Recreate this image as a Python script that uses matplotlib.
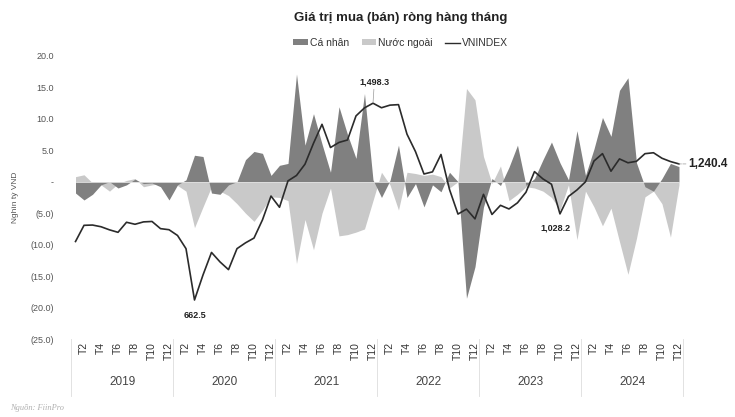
import matplotlib
matplotlib.use("Agg")
import matplotlib.pyplot as plt
from matplotlib.patches import Patch
from matplotlib.lines import Line2D
from matplotlib.ticker import FuncFormatter
import numpy as np

plt.rcParams['font.family'] = ['Liberation Sans', 'DejaVu Sans']

# du lieu doc tu bieu do (nghin ty VND), thang 1/2019 -> 12/2024
nam = ['2019', '2020', '2021', '2022', '2023', '2024']
thang = ['T' + str(i) for i in range(1, 13)]

ca_nhan = [
    -1.8, -2.9, -2.0, -0.5, 0.0, -1.0, -0.5, 0.4, -0.3, -0.2, -0.8, -2.9,
    -0.5, 0.3, 4.2, 4.0, -1.8, -2.0, -0.5, 0.0, 3.5, 4.8, 4.5, 1.0,
    2.6, 2.9, 17.1, 5.8, 10.8, 6.0, 1.5, 11.9, 7.5, 3.7, 14.0, 0.3,
    -2.5, 0.2, 5.8, -2.5, -0.3, -4.0, -0.5, -1.6, 1.5, 0.0, -18.5, -13.5,
    -4.0, 0.5, -0.6, 2.3, 5.8, -0.6, 0.5, 3.5, 6.3, 3.0, 0.3, 8.1,
    1.0, 5.2, 10.2, 7.2, 14.5, 16.5, 3.0, -0.8, -1.5, 0.5, 2.9, 2.4,
]
nuoc_ngoai = [
    0.8, 1.1, -0.2, -0.5, -1.5, -0.3, 0.2, 0.5, -0.8, -0.5, -0.3, -0.5,
    -0.6, -1.5, -7.3, -4.0, -0.8, -1.5, -2.2, -3.5, -5.0, -6.3, -4.5, -2.4,
    -2.5, -3.0, -13.0, -6.0, -10.8, -5.0, -1.0, -8.6, -8.4, -8.0, -7.5, -3.0,
    1.5, -0.5, -4.5, 1.5, 1.3, 1.0, 1.2, 0.8, -1.0, 0.0, 14.8, 13.0,
    4.0, -0.3, 2.5, -3.0, -2.0, -0.8, -1.0, -1.5, -2.5, -4.5, -0.5, -9.2,
    -1.5, -4.0, -7.0, -4.2, -9.5, -14.7, -9.0, -2.4, -1.5, -3.5, -8.8, -0.5,
]
vnindex = [
    910.9, 979.6, 980.8, 973.6, 960.4, 949.9, 992.6, 984.1, 994.2, 996.0, 965.5, 961.0,
    936.6, 880.5, 662.5, 768.8, 864.5, 824.3, 791.4, 880.6, 905.2, 925.5, 1003.1, 1103.9,
    1056.3, 1168.5, 1191.4, 1239.4, 1328.1, 1408.6, 1310.1, 1331.7, 1342.1, 1444.3, 1478.4, 1498.3,
    1479.0, 1490.1, 1492.2, 1366.8, 1292.7, 1197.6, 1206.7, 1280.5, 1132.1, 1027.4, 1048.4, 1007.1,
    1111.2, 1025.7, 1064.6, 1049.1, 1075.2, 1120.2, 1207.7, 1176.6, 1154.2, 1028.2, 1102.2, 1129.9,
    1164.3, 1252.7, 1284.1, 1209.5, 1261.7, 1245.3, 1251.5, 1283.9, 1287.9, 1264.5, 1250.5, 1240.4,
]

mau_ca_nhan = '#808080'
mau_nuoc_ngoai = '#c9c9c9'
mau_vni = '#2b2b2b'

x = np.arange(len(vnindex))

fig = plt.figure(figsize=(7.35, 4.17), dpi=100)
ax = fig.add_axes([0.0958, 0.1866, 0.8349, 0.6798])

ax.fill_between(x, 0, nuoc_ngoai, color=mau_nuoc_ngoai, lw=0)
ax.fill_between(x, 0, ca_nhan, color=mau_ca_nhan, lw=0)
ax.plot([x[0], x[-1]], [0, 0], color='#e2e2e2', lw=0.6)

ax.set_xlim(-0.6, len(x) - 0.4)
ax.set_ylim(-25, 20)
ax.set_yticks(np.arange(-25, 21, 5))


def dinh_dang(v, pos):
    if abs(v) < 1e-9:
        return '-'
    if v < 0:
        return '(%.1f)' % abs(v)
    return '%.1f' % v


ax.yaxis.set_major_formatter(FuncFormatter(dinh_dang))
ax.tick_params(axis='y', length=0, labelsize=6.5, labelcolor='#555555', pad=12)

ax.set_xticks(x[1::2])
ax.set_xticklabels(thang[1::2] * len(nam), rotation=90)
ax.tick_params(axis='x', length=0, labelsize=7.5, labelcolor='#333333', pad=2)

for s in ax.spines.values():
    s.set_visible(False)

ax.set_ylabel('Nghìn tỷ VND', fontsize=6, color='#555555', labelpad=8)

# nhan nam va duong phan cach
tr = ax.get_xaxis_transform()
for i, n in enumerate(nam):
    ax.text(i * 12 + 5.5, -0.151, n, transform=tr, ha='center', va='center',
            fontsize=8.5, color='#444444')
for i in range(len(nam) + 1):
    ax.plot([i * 12 - 0.5] * 2, [0.0, -0.2], transform=tr, color='#dddddd',
            lw=0.6, clip_on=False)

ax2 = ax.twinx()
ax2.plot(x, vnindex, color=mau_vni, lw=1.2)
ax2.set_ylim(496, 1700)
ax2.axis('off')

ax2.annotate('662.5', (14, 662.5), xytext=(0, -11), textcoords='offset points',
             ha='center', va='center', fontsize=6.5, fontweight='bold', color='#222222')
ax2.annotate('1,498.3', (35, 1498.3), xytext=(1, 12), textcoords='offset points',
             ha='center', va='bottom', fontsize=6.5, fontweight='bold', color='#222222',
             arrowprops=dict(arrowstyle='-', color='#999999', lw=0.5, shrinkA=0, shrinkB=1))
ax2.annotate('1,028.2', (57, 1028.2), xytext=(-3, -10), textcoords='offset points',
             ha='center', va='center', fontsize=6.5, fontweight='bold', color='#222222')
ax2.annotate('1,240.4', (71, 1240.4), xytext=(7, 0), textcoords='offset points',
             ha='left', va='center', fontsize=8.5, fontweight='bold', color='#222222',
             arrowprops=dict(arrowstyle='-', color='#aaaaaa', lw=0.6, ls='--',
                             shrinkA=0, shrinkB=0))

fig.text(0.545, 0.957, 'Giá trị mua (bán) ròng hàng tháng', ha='center', va='center',
         fontsize=9.5, fontweight='bold', color='#222222')

tay_cam = [Patch(facecolor=mau_ca_nhan), Patch(facecolor=mau_nuoc_ngoai),
           Line2D([], [], color=mau_vni, lw=1)]
fig.legend(tay_cam, ['Cá nhân', 'Nước ngoài', 'VNINDEX'], loc='center',
           bbox_to_anchor=(0.545, 0.897), ncol=3, frameon=False, fontsize=7.5,
           handlelength=1.4, handleheight=0.5, handletextpad=0.2, columnspacing=1.2,
           labelcolor='#333333')

fig.text(0.014, 0.022, 'Nguồn: FiinPro', ha='left', va='center', fontsize=6,
         style='italic', family=['Liberation Serif', 'DejaVu Serif'], color='#b0b0b0')

fig.savefig('out.png', dpi=100, facecolor='white')
